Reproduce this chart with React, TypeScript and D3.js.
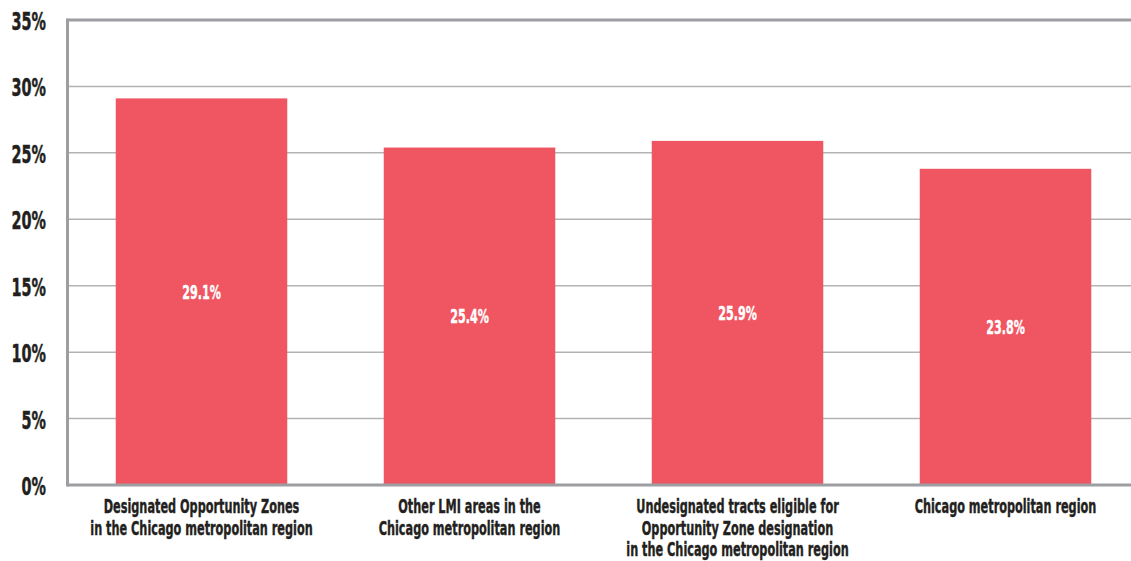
import React from "react";
import * as d3 from "d3";

const categories: string[][] = [
  ["Designated Opportunity Zones", "in the Chicago metropolitan region"],
  ["Other LMI areas in the", "Chicago metropolitan region"],
  ["Undesignated tracts eligible for", "Opportunity Zone designation", "in the Chicago metropolitan region"],
  ["Chicago metropolitan region"],
];
const values: number[] = [29.1, 25.4, 25.9, 23.8];
const yTicks: number[] = [0, 5, 10, 15, 20, 25, 30, 35];

const W = 1131;
const H = 561;
const FONT = "'DejaVu Sans Condensed', 'DejaVu Sans', sans-serif";

export default function App() {
  const left = 67.5;
  const top = 20;
  const bottom = 485;
  const y = d3.scaleLinear().domain([0, 35]).range([bottom, top]);
  const x = d3
    .scaleBand<number>()
    .domain(values.map((_, i) => i))
    .range([left, left + 4 * 268])
    .paddingInner(0.36)
    .paddingOuter(0.18);
  const cx = (i: number) => (x(i) as number) + x.bandwidth() / 2;

  return (
    <svg width={W} height={H} style={{ position: "absolute", left: 0, top: 0, background: "#fff" }}>
      {yTicks.slice(1, -1).map((t) => (
        <line key={t} x1={left} x2={W} y1={y(t)} y2={y(t)} stroke="#b3b3b3" strokeWidth={1.5} />
      ))}
      {values.map((v, i) => (
        <rect key={i} x={x(i)} y={y(v)} width={x.bandwidth()} height={bottom - y(v)} fill="#F05562" />
      ))}
      {values.map((v, i) => (
        <text
          key={"l" + i}
          transform={`translate(${cx(i)},${(y(v) + bottom) / 2 + 7}) scale(0.62,1)`}
          textAnchor="middle"
          fill="#fff"
          stroke="#fff"
          strokeWidth={0.4}
          fontFamily={FONT}
          fontWeight="bold"
          fontSize={20}
        >
          {d3.format(".1f")(v)}%
        </text>
      ))}
      <line x1={left} x2={W} y1={y(35)} y2={y(35)} stroke="#9d9ea1" strokeWidth={3} />
      <line x1={left} x2={W} y1={bottom} y2={bottom} stroke="#9d9ea1" strokeWidth={3} />
      <line x1={left} x2={left} y1={y(35) - 1.5} y2={bottom + 1.5} stroke="#9d9ea1" strokeWidth={3} />
      {yTicks.map((t) => (
        <text
          key={"t" + t}
          transform={`translate(46,${y(t) + 10}) scale(0.64,1)`}
          textAnchor="end"
          fill="#231f20"
          stroke="#231f20"
          strokeWidth={0.5}
          fontFamily={FONT}
          fontWeight="bold"
          fontSize={25}
        >
          {t}%
        </text>
      ))}
      {categories.map((lines, i) => (
        <text
          key={"c" + i}
          transform={`translate(${cx(i)},513) scale(0.66,1)`}
          textAnchor="middle"
          fill="#231f20"
          stroke="#231f20"
          strokeWidth={0.4}
          fontFamily={FONT}
          fontWeight="bold"
          fontSize={19}
        >
          {lines.map((ln, j) => (
            <tspan key={j} x={0} y={j * 21.7}>
              {ln}
            </tspan>
          ))}
        </text>
      ))}
    </svg>
  );
}
